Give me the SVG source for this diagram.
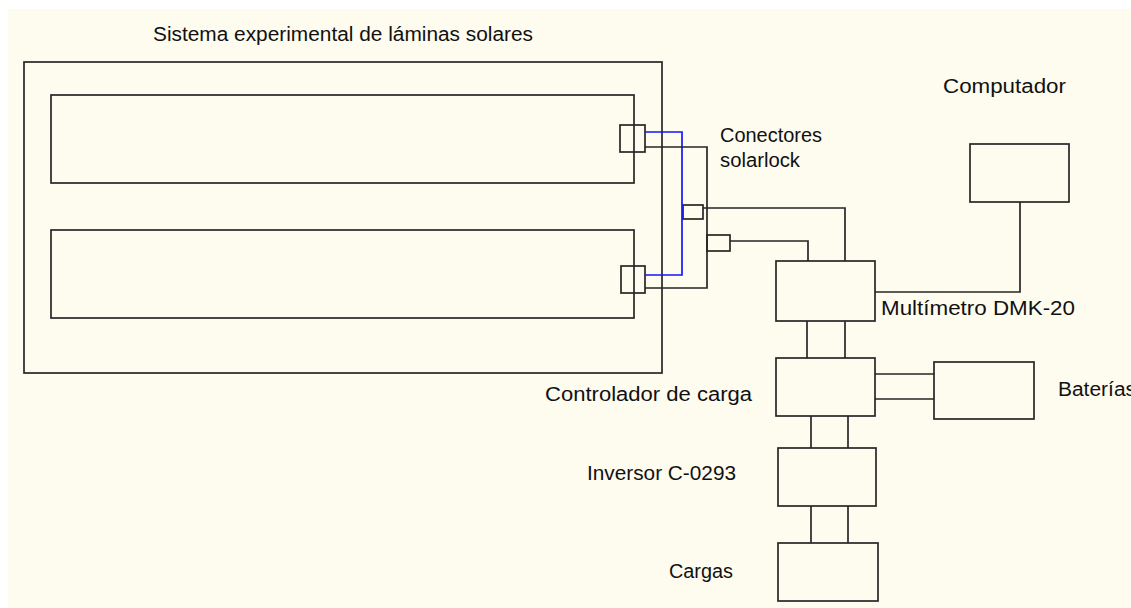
<svg xmlns="http://www.w3.org/2000/svg" width="1131" height="608" viewBox="0 0 1131 608">
<style>
.b{fill:none;stroke:#262626;stroke-width:1.7}
.w{stroke:#262626;stroke-width:1.7;fill:none}
.bl{stroke:#1414ff;stroke-width:1.7;fill:none}
text{font-family:"Liberation Sans",Arial,sans-serif;font-size:20px;fill:#111}
</style>
<rect x="0" y="0" width="1131" height="608" fill="#ffffff"/>
<rect x="8" y="9" width="1123" height="599" fill="#fefbef"/>
<g id="sistema">
<rect class="b" x="24" y="62" width="638" height="311"/>
<text x="153" y="41" font-size="18" textLength="380" lengthAdjust="spacingAndGlyphs">Sistema experimental de láminas solares</text>
</g>
<g id="lamina1"><rect class="b" x="51" y="95" width="583" height="88"/></g>
<g id="lamina2"><rect class="b" x="51" y="230" width="583" height="88"/></g>
<g id="conector1"><rect class="b" x="620" y="125" width="25" height="27"/></g>
<g id="conector2"><rect class="b" x="621" y="266" width="24" height="27"/></g>
<g id="solarlock1"><rect class="b" x="683" y="205" width="20" height="14"/></g>
<g id="solarlock2"><rect class="b" x="707" y="235" width="23" height="16"/></g>
<g id="solarlock-label">
<text x="720" y="142" textLength="102" lengthAdjust="spacingAndGlyphs">Conectores</text>
<text x="720" y="167" textLength="80" lengthAdjust="spacingAndGlyphs">solarlock</text>
</g>
<g id="multimetro">
<rect class="b" x="776" y="261" width="99" height="60"/>
<text x="881" y="315" textLength="194" lengthAdjust="spacingAndGlyphs">Multímetro DMK-20</text>
</g>
<g id="computador">
<rect class="b" x="970" y="144" width="99" height="58"/>
<text x="943" y="93" textLength="123" lengthAdjust="spacingAndGlyphs">Computador</text>
</g>
<g id="controlador">
<rect class="b" x="776" y="358" width="99" height="58"/>
<text x="545" y="401" textLength="207" lengthAdjust="spacingAndGlyphs">Controlador de carga</text>
</g>
<g id="baterias">
<rect class="b" x="934" y="362" width="100" height="57"/>
<text x="1058" y="396" textLength="78" lengthAdjust="spacingAndGlyphs">Baterías</text>
</g>
<g id="inversor">
<rect class="b" x="778" y="448" width="98" height="58"/>
<text x="587" y="480" textLength="149" lengthAdjust="spacingAndGlyphs">Inversor C-0293</text>
</g>
<g id="cargas">
<rect class="b" x="778" y="543" width="100" height="58"/>
<text x="669" y="578" textLength="64" lengthAdjust="spacingAndGlyphs">Cargas</text>
</g>
<g id="connectors">
<polyline class="bl" points="645,132 682,132 682,275 645,275"/>
<polyline class="w" points="645,147 707,147 707,288 645,288"/>
<polyline class="w" points="703,208 845,208 845,261"/>
<polyline class="w" points="730,241 808,241 808,261"/>
<polyline class="w" points="875,292 1020,292 1020,202"/>
<line class="w" x1="807" y1="321" x2="807" y2="358"/>
<line class="w" x1="845" y1="321" x2="845" y2="358"/>
<line class="w" x1="875" y1="374" x2="934" y2="374"/>
<line class="w" x1="875" y1="399" x2="934" y2="399"/>
<line class="w" x1="811" y1="416" x2="811" y2="448"/>
<line class="w" x1="848" y1="416" x2="848" y2="448"/>
<line class="w" x1="811" y1="506" x2="811" y2="543"/>
<line class="w" x1="848" y1="506" x2="848" y2="543"/>
</g>
</svg>
